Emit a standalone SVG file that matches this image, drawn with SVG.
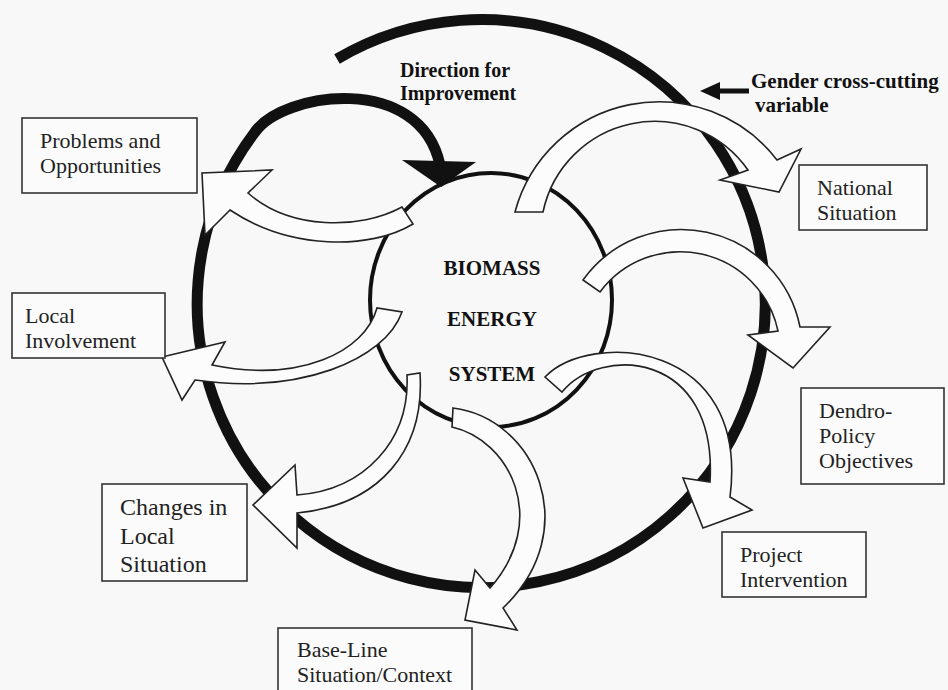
<svg xmlns="http://www.w3.org/2000/svg" width="948" height="690" viewBox="0 0 948 690">
<style>
.box{fill:#fbfbfb;stroke:#333;stroke-width:1.6}
.t{font-family:"Liberation Serif","Times New Roman",serif;font-size:22px;fill:#222}
.b{font-family:"Liberation Serif","Times New Roman",serif;font-size:21px;font-weight:bold;fill:#111}
.arr{fill:#fcfcfc;stroke:#222;stroke-width:1.6;stroke-linejoin:miter}
</style>
<rect width="948" height="690" fill="#f8f8f8"/>
<g id="spiral">
<path d="M 337,59 A 284 284 0 1 1 255,132 C 283,92 420,72 440,165" fill="none" stroke="#111" stroke-width="11"/>
<polygon points="402,160 476,162 441,187" fill="#111"/>
</g>
<g id="core">
<ellipse cx="491" cy="300" rx="121" ry="127" fill="none" stroke="#111" stroke-width="4"/>
<text class="b" x="492" y="275" text-anchor="middle">BIOMASS</text>
<text class="b" x="492" y="326" text-anchor="middle">ENERGY</text>
<text class="b" x="492" y="381" text-anchor="middle">SYSTEM</text>
</g>
<g id="connectors">
<path class="arr" d="M 515,212 A 149 149 0 0 1 777,160 L 801,149 L 779,192 L 720,180 L 748,170 A 114 114 0 0 0 543,212 Z"/>
<path class="arr" d="M 583,280 A 121 121 0 0 1 800,327 L 830,327 L 793,368 L 748,335 L 778,331 A 100 100 0 0 0 600,292 Z"/>
<path class="arr" d="M 545,377 C 590,330 750,340 730,497 L 752,510 L 703,528 L 683,478 L 710,482 C 718,350 600,345 562,392 Z"/>
<path class="arr" d="M 453,408 C 535,418 585,530 503,608 L 517,630 L 465,620 L 475,570 L 490,588 C 550,520 510,440 452,427 Z"/>
<path class="arr" d="M 420,373 C 425,450 380,505 297,513 L 297,548 L 253,505 L 295,465 L 297,495 C 365,490 410,440 407,375 Z"/>
<path class="arr" d="M 402,312 C 385,360 300,395 195,380 L 182,400 L 162,357 L 225,342 L 212,365 C 300,383 365,352 377,308 Z"/>
<path class="arr" d="M 413,224 C 370,250 290,250 230,210 L 205,235 L 202,173 L 272,170 L 248,193 C 290,230 360,230 402,207 Z"/>
</g>
<g id="direction-label">
<text class="b" x="400" y="77" style="font-size:20px">Direction for</text>
<text class="b" x="400" y="100" style="font-size:20px">Improvement</text>
</g>
<g id="gender-label">
<line x1="716" y1="91" x2="749" y2="91" stroke="#111" stroke-width="5"/>
<polygon points="700,91 720,82 720,100" fill="#111"/>
<text class="b" x="751" y="88">Gender cross-cutting</text>
<text class="b" x="755" y="112">variable</text>
</g>
<g id="problems">
<rect class="box" x="22" y="118" width="175" height="75"/>
<text class="t" x="40" y="148">Problems and</text>
<text class="t" x="40" y="173">Opportunities</text>
</g>
<g id="national">
<rect class="box" x="799" y="165" width="128" height="65"/>
<text class="t" x="817" y="195">National</text>
<text class="t" x="817" y="220">Situation</text>
</g>
<g id="local">
<rect class="box" x="12" y="293" width="153" height="65"/>
<text class="t" x="25" y="323">Local</text>
<text class="t" x="25" y="348">Involvement</text>
</g>
<g id="dendro">
<rect class="box" x="801" y="388" width="143" height="96"/>
<text class="t" x="819" y="418">Dendro-</text>
<text class="t" x="819" y="443">Policy</text>
<text class="t" x="819" y="468">Objectives</text>
</g>
<g id="changes">
<rect class="box" x="102" y="484" width="145" height="97"/>
<text class="t" x="120" y="515" style="font-size:24px">Changes in</text>
<text class="t" x="120" y="544" style="font-size:24px">Local</text>
<text class="t" x="120" y="572" style="font-size:24px">Situation</text>
</g>
<g id="project">
<rect class="box" x="722" y="532" width="144" height="65"/>
<text class="t" x="740" y="562">Project</text>
<text class="t" x="740" y="587">Intervention</text>
</g>
<g id="baseline">
<rect class="box" x="278" y="628" width="194" height="80"/>
<text class="t" x="297" y="657">Base-Line</text>
<text class="t" x="297" y="682">Situation/Context</text>
</g>
</svg>
